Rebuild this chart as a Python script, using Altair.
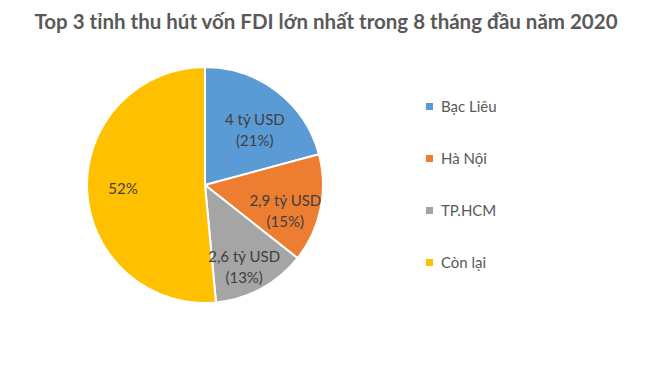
import altair as alt
import pandas as pd

title_text = "Top 3 tỉnh thu hút vốn FDI lớn nhất trong 8 tháng đầu năm 2020"
categories = ["Bạc Liêu", "Hà Nội", "TP.HCM", "Còn lại"]
shares = [21, 15, 13, 52]
labels = ["4 tỷ USD\n(21%)", "2,9 tỷ USD\n(15%)", "2,6 tỷ USD\n(13%)", "52%"]
colors = ["#5B9BD5", "#ED7D31", "#A5A5A5", "#FFC000"]

df = pd.DataFrame({"cat": categories, "share": shares, "label": labels,
                   "order": list(range(len(categories)))})

FONT = "Lato"
CX, CY, R = 197, 127, 118

base = alt.Chart(df).encode(
    theta=alt.Theta("share:Q", stack=True),
    order=alt.Order("order:Q"),
)

pie = base.mark_arc(stroke="white", strokeWidth=2, radius=R).encode(
    x=alt.value(CX), y=alt.value(CY),
    color=alt.Color("cat:N", sort=categories,
                    scale=alt.Scale(domain=categories, range=colors),
                    legend=alt.Legend(title=None, orient="none", legendX=414, legendY=41,
                                      symbolType="square", symbolSize=50,
                                      symbolStrokeWidth=0,
                                      labelFont=FONT, labelFontSize=15, labelColor="#595959",
                                      rowPadding=36, labelOffset=4)),
)

text = base.mark_text(radius=82, font=FONT, fontSize=15, color="#404040",
                      lineBreak="\n", lineHeight=21, align="center", baseline="middle").encode(
    x=alt.value(CX), y=alt.value(CY),
    text="label:N",
)

title = alt.Chart(pd.DataFrame({"t": [title_text]})).mark_text(
    font=FONT, fontSize=20.5, fontWeight="bold", color="#595959",
    align="center", baseline="alphabetic",
).encode(x=alt.value(318), y=alt.value(-29), text="t:N")

chart = alt.layer(pie, text, title).properties(
    width=634, height=300,
    autosize=alt.AutoSizeParams(type="none"),
    padding={"left": 0, "top": 50, "right": 0, "bottom": 0},
).configure_view(stroke=None)

chart.save("out.html", embed_options={"renderer": "svg", "actions": False})
